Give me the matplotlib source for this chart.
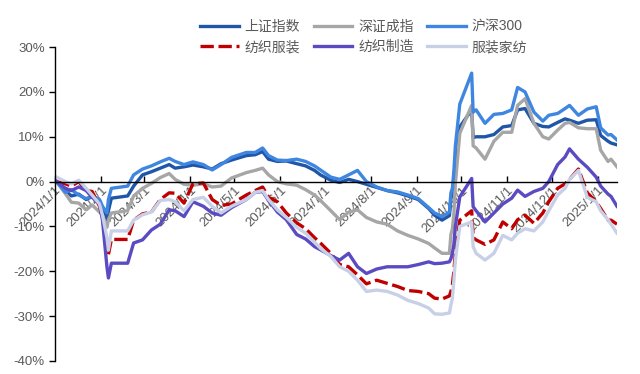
import matplotlib
matplotlib.use("Agg")
import matplotlib.pyplot as plt
import matplotlib.dates as mdates
import pandas as pd
from matplotlib.ticker import FuncFormatter, MultipleLocator

plt.rcParams["font.family"] = ["Liberation Sans", "Noto Sans CJK SC", "DejaVu Sans"]
plt.rcParams["axes.unicode_minus"] = False

# 累计涨跌幅（%），以2023年末收盘为基准
dates = pd.to_datetime([
    "2024-01-02", "2024-01-08", "2024-01-12", "2024-01-17", "2024-01-22",
    "2024-01-26", "2024-01-31", "2024-02-02", "2024-02-05", "2024-02-06",
    "2024-02-08", "2024-02-19", "2024-02-23", "2024-02-29", "2024-03-06",
    "2024-03-12", "2024-03-18", "2024-03-22", "2024-03-28", "2024-04-03",
    "2024-04-10", "2024-04-16", "2024-04-22", "2024-04-29", "2024-05-09",
    "2024-05-15", "2024-05-20", "2024-05-24", "2024-05-30", "2024-06-05",
    "2024-06-12", "2024-06-18", "2024-06-24", "2024-06-28", "2024-07-05",
    "2024-07-11", "2024-07-17", "2024-07-23", "2024-07-29", "2024-08-05",
    "2024-08-12", "2024-08-19", "2024-08-26", "2024-09-02", "2024-09-09",
    "2024-09-13", "2024-09-18", "2024-09-23", "2024-09-24", "2024-09-25",
    "2024-09-26", "2024-09-27", "2024-09-30", "2024-10-08", "2024-10-09",
    "2024-10-11", "2024-10-17", "2024-10-23", "2024-10-29", "2024-11-04",
    "2024-11-08", "2024-11-13", "2024-11-19", "2024-11-25", "2024-11-29",
    "2024-12-05", "2024-12-10", "2024-12-13", "2024-12-19", "2024-12-25",
    "2024-12-31", "2025-01-03", "2025-01-08", "2025-01-10", "2025-01-14",
])

sh_index = [
    0.0, -2.0, -3.2, -2.8, -4.0, -3.3, -4.5, -6.0, -8.6, -6.5,
    -3.7, -3.2, -1.0, 1.5, 2.2, 3.0, 3.8, 3.0, 3.3, 3.7,
    3.3, 2.8, 4.0, 4.8, 5.8, 6.0, 6.7, 5.0, 4.5, 4.6,
    4.0, 3.5, 2.5, 1.5, 0.3, -0.2, 0.5, 0.0, -0.6, -1.3,
    -2.0, -2.5, -3.2, -4.0, -6.0, -7.5, -8.6, -7.6, -3.8, -2.6,
    0.9, 3.8, 12.2, 16.0, 9.8, 10.0, 10.0, 10.5, 12.2, 12.5,
    16.0, 16.3, 13.0, 12.3, 12.2, 13.2, 14.0, 13.7, 13.0, 13.7,
    13.8, 10.3, 9.0, 8.6, 8.2,
]
sz_index = [
    0.0, -2.7, -4.6, -4.8, -6.3, -5.2, -6.8, -7.5, -10.2, -8.5,
    -7.0, -6.5, -3.2, -1.5, -0.4, 0.9, 1.8, 0.5, -0.6, -0.8,
    -0.5, -1.2, -1.0, 0.8, 2.0, 2.5, 3.0, 1.5, 0.0, -0.5,
    -0.8, -1.8, -3.0, -4.2, -6.5, -8.5, -6.8, -6.3, -8.0, -9.0,
    -9.5, -11.0, -12.0, -12.8, -13.8, -14.8, -16.0, -16.0, -11.8, -10.5,
    -7.2, -0.5, 10.8, 17.0, 8.0, 7.5, 5.0, 9.0, 11.0, 11.0,
    17.0, 18.5, 13.0, 10.0, 9.5, 11.5, 13.0, 13.2, 12.0, 11.8,
    11.8, 7.0, 4.5, 5.0, 3.3,
]
hs300 = [
    0.0, -2.4, -1.8, -3.0, -3.8, -3.2, -4.0, -5.5, -7.0, -4.0,
    -1.5, -1.0, 1.5, 2.8, 3.5, 4.4, 5.2, 4.5, 3.8, 4.4,
    3.8, 2.6, 3.8, 5.4, 6.5, 6.5, 7.5, 5.8, 4.8, 4.7,
    5.0, 4.5, 3.5, 2.6, 1.0, 0.5, 1.5, 2.5, 0.0, -1.2,
    -2.0, -2.3, -3.0, -3.8, -5.8, -7.0, -7.8, -6.8, -2.5, -1.5,
    2.3, 7.9, 17.3, 24.2, 15.5, 16.0, 13.0, 15.0, 15.2, 16.0,
    21.0, 20.0, 15.5, 13.5, 14.8, 15.2, 16.3, 17.0, 14.8, 16.2,
    16.7, 12.0, 10.4, 10.5, 9.3,
]
textile_apparel = [
    0.0, -0.5, -1.0, 0.0, -2.0, -2.2, -5.5, -8.0, -14.5, -16.3,
    -12.9, -12.9, -8.6, -7.2, -6.8, -4.0, -2.5, -2.6, -4.8, -0.5,
    -0.3, -4.0, -5.3, -5.0, -3.0, -2.0, -1.2, -3.5, -4.5, -7.0,
    -9.2, -10.5, -12.5, -13.7, -16.0, -18.5, -19.0, -20.8, -22.8, -22.0,
    -22.7, -23.4, -24.3, -24.5, -25.0, -26.0, -26.2, -25.5, -24.5, -23.0,
    -20.0, -16.0, -8.6, -6.5, -12.5, -13.0, -14.0, -13.0, -9.0, -10.5,
    -8.5, -7.5, -9.3, -7.0, -4.5, -1.5, -0.5, 0.5, 2.8, -2.5,
    -4.5, -6.0, -8.6, -8.6, -9.5,
]
textile_mfg = [
    0.0, -1.5, -2.0, -1.2, -2.0, -3.5, -5.0, -8.6, -19.0, -21.5,
    -18.2, -18.2, -13.7, -13.0, -10.8, -9.5, -6.3, -6.5, -7.8, -4.5,
    -5.5, -7.0, -7.5, -5.8, -4.0, -2.4, -2.2, -4.2, -6.8, -8.5,
    -11.8, -12.8, -14.5, -15.2, -16.5, -17.5, -16.0, -19.0, -20.5, -19.5,
    -19.0, -19.0, -19.0, -18.5, -17.9, -18.3, -18.2, -17.9, -17.2, -16.0,
    -14.0, -10.0, -3.4, 0.7, -5.6, -6.5, -9.0, -7.0, -5.0, -3.7,
    -1.9, -3.3, -2.2, -1.5, 0.0, 3.8, 5.5, 7.3, 5.0, 3.2,
    1.0, -1.0, -2.8, -3.3, -5.5,
]
apparel_home = [
    1.0, 0.0, -0.5, 0.3, -1.5, -3.0, -5.0, -7.5, -12.5, -15.3,
    -11.0, -11.0, -8.6, -7.4, -6.8, -4.2, -4.0, -4.5, -6.5, -4.0,
    -3.5, -5.5, -7.0, -5.5, -4.0, -2.4, -2.0, -4.0, -6.3, -8.0,
    -10.2, -11.5, -13.5, -14.9, -16.7, -19.0, -20.0, -22.0, -24.5, -24.2,
    -24.5, -25.3, -26.5, -27.2, -28.2, -29.5, -29.6, -29.3, -27.5, -26.0,
    -22.0, -17.5, -10.0, -9.0, -14.5, -16.0, -17.5, -16.0, -12.0, -13.0,
    -11.5, -10.5, -11.0, -9.0, -6.5, -3.0, -1.5, 0.5, 2.5, -3.5,
    -4.5, -6.5, -8.5, -9.5, -11.5,
]

series = [
    ("上证指数", sh_index, "#1F56A8", "-"),
    ("深证成指", sz_index, "#A6A6A6", "-"),
    ("沪深300", hs300, "#3F86E0", "-"),
    ("纺织服装", textile_apparel, "#C00000", "--"),
    ("纺织制造", textile_mfg, "#5A4BC2", "-"),
    ("服装家纺", apparel_home, "#C8D0E7", "-"),
]

month_ticks = pd.date_range("2024-01-01", "2025-01-01", freq="MS")

fig = plt.figure(figsize=(6.4, 3.74), dpi=100)
ax = fig.add_axes([0.086, 0.035, 0.878, 0.839])

handles = []
for name, vals, color, ls in series:
    line, = ax.plot(dates, vals, color=color, lw=2.4, ls=ls, label=name,
                    solid_joinstyle="round")
    if ls == "--":
        line.set_dashes((4, 1.4))
    handles.append(line)

ax.set_xlim(pd.Timestamp("2024-01-01"), pd.Timestamp("2025-01-14"))
ax.set_ylim(-40, 30)
ax.yaxis.set_major_locator(MultipleLocator(10))
ax.yaxis.set_major_formatter(FuncFormatter(lambda v, _: f"{v:.0f}%"))

ax.set_xticks(month_ticks)
ax.xaxis.set_major_formatter(mdates.DateFormatter("%Y/%-m/%-d"))

ax.spines["top"].set_visible(False)
ax.spines["right"].set_visible(False)
ax.spines["bottom"].set_position(("data", 0))
for sp in ("left", "bottom"):
    ax.spines[sp].set_color("black")
    ax.spines[sp].set_linewidth(1.0)

ax.tick_params(axis="y", direction="out", length=4, width=1, colors="black",
               labelcolor="#595959", labelsize=9.5)
ax.tick_params(axis="x", direction="in", length=4, width=1, colors="black",
               labelcolor="#595959", labelsize=9.5, pad=2)
for lbl in ax.get_xticklabels():
    lbl.set_rotation(45)
    lbl.set_ha("right")
    lbl.set_va("top")
    lbl.set_rotation_mode("anchor")

# 图例按行排列：第一行三个指数，第二行三个行业
order = [0, 3, 1, 4, 2, 5]
fig.legend([handles[i] for i in order], [series[i][0] for i in order],
           loc="upper center", bbox_to_anchor=(0.568, 0.98), ncol=3,
           frameon=False, fontsize=10, handlelength=2.8, handletextpad=0.4,
           columnspacing=1.0, labelspacing=0.45, labelcolor="#595959")

fig.savefig("out.png", dpi=100)
